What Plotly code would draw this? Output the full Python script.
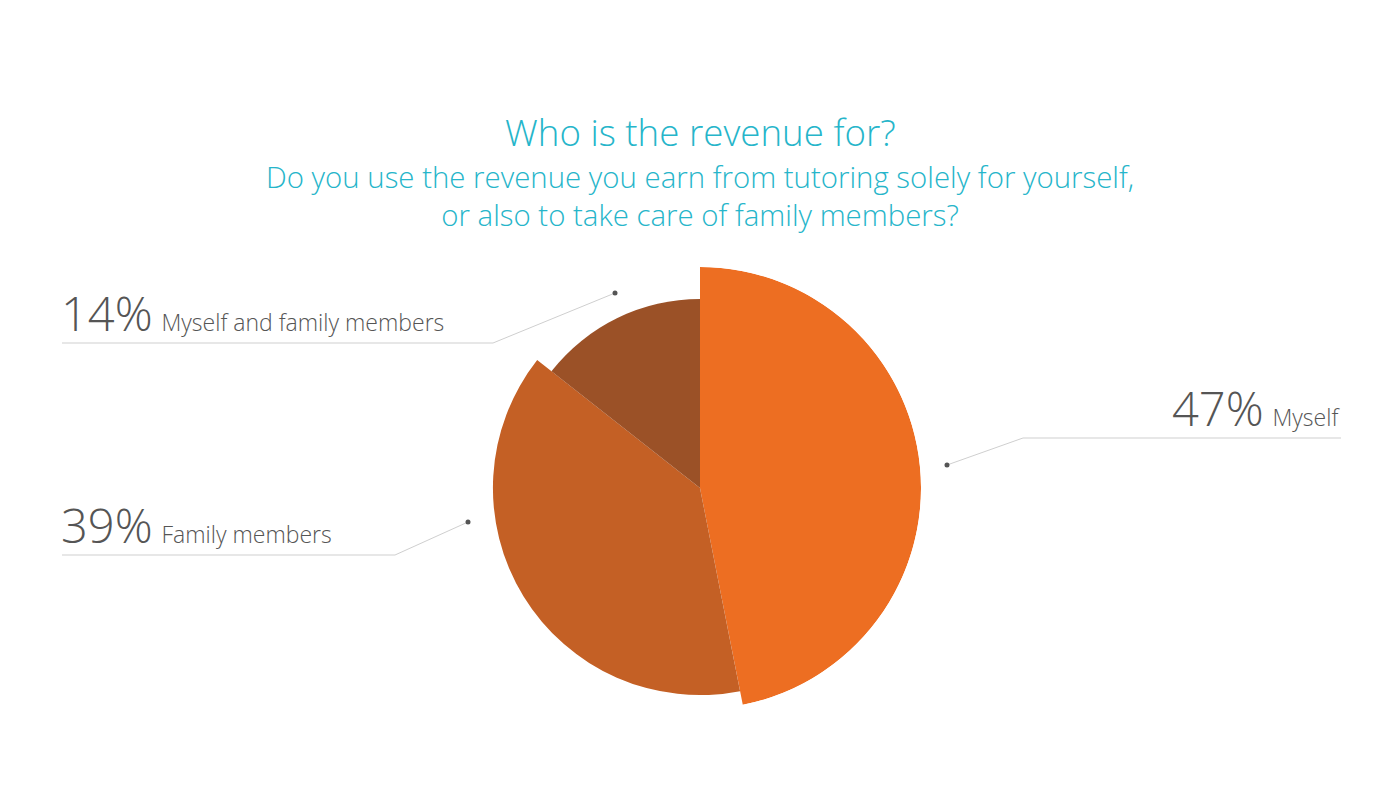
import plotly.graph_objects as go

# ---- data ----
categories = ["Myself", "Family members", "Myself and family members"]
shares = [46.9, 38.7, 14.4]          # slice sizes
percent_labels = ["47%", "39%", "14%"]
radius_values = [100, 93.7, 85.5]    # relative slice radius (variable-radius pie)
colors = ["#ED6E22", "#C46025", "#9B5127"]

title_text = "Who is the revenue for?"
subtitle_lines = ["Do you use the revenue you earn from tutoring solely for yourself,",
                  "or also to take care of family members?"]

# ---- layout constants (pixels) ----
W, H = 1400, 800
cx, cy, R = 700, 488, 221
FONT = "Open Sans, Ubuntu, sans-serif"
TEXT_COLOR = "#555555"
TITLE_COLOR = "#26B5CA"

total = sum(shares)
widths = [p / total * 360 for p in shares]
starts = []
acc = 0
for w in widths:
    starts.append(acc)
    acc += w
centers = [s + w / 2 for s, w in zip(starts, widths)]

fig = go.Figure(go.Barpolar(
    r=radius_values, theta=centers, width=widths,
    marker=dict(color=colors, line=dict(width=0)),
    text=categories, hoverinfo="text", showlegend=False,
))

def px(x):
    return x / W

def py(y):
    return 1 - y / H

# label geometry: (side, line x0, line x1, line y, dot x, dot y)
label_geom = [
    ("right", 1023, 1341, 438, 947, 465),
    ("left", 62, 395, 555, 468, 522),
    ("left", 62, 493, 343, 615, 293),
]

shapes = []
annotations = []
for cat, pl, (side, x0, x1, ly, dx, dy) in zip(categories, percent_labels, label_geom):
    shapes.append(dict(type="line", xref="paper", yref="paper",
                       x0=px(x0), x1=px(x1), y0=py(ly), y1=py(ly),
                       line=dict(color="#CFCFCF", width=1)))
    sx = x0 if side == "right" else x1
    shapes.append(dict(type="line", xref="paper", yref="paper",
                       x0=px(sx), x1=px(dx), y0=py(ly), y1=py(dy),
                       line=dict(color="#CFCFCF", width=1)))
    shapes.append(dict(type="circle", xref="paper", yref="paper",
                       x0=px(dx - 2.5), x1=px(dx + 2.5), y0=py(dy + 2.5), y1=py(dy - 2.5),
                       fillcolor="#555555", line=dict(width=0)))
    annotations.append(dict(
        xref="paper", yref="paper",
        x=px(x1 + 1) if side == "right" else px(x0 - 3),
        y=py(ly + 3.5),
        xanchor="right" if side == "right" else "left",
        yanchor="bottom",
        text=(f"<span style='font-size:47px'>{pl}</span>"
              f"<span style='font-size:34px'> </span>{cat}"),
        showarrow=False,
        font=dict(family=FONT, size=23, color=TEXT_COLOR, weight=300),
    ))

annotations.append(dict(xref="paper", yref="paper", x=0.5, y=py(159),
                        xanchor="center", yanchor="bottom", text=title_text,
                        showarrow=False,
                        font=dict(family=FONT, size=36.7, color=TITLE_COLOR, weight=300)))
annotations.append(dict(xref="paper", yref="paper", x=0.5, y=py(235.5),
                        xanchor="center", yanchor="bottom",
                        text="<br>".join(subtitle_lines),
                        showarrow=False, borderpad=0,
                        font=dict(family=FONT, size=29.4, color=TITLE_COLOR, weight=300)))

fig.update_layout(
    width=W, height=H,
    margin=dict(l=0, r=0, t=0, b=0),
    paper_bgcolor="white", plot_bgcolor="white",
    polar=dict(
        domain=dict(x=[px(cx - R), px(cx + R)], y=[py(cy + R), py(cy - R)]),
        radialaxis=dict(visible=False, range=[0, 100]),
        angularaxis=dict(visible=False, direction="clockwise", rotation=90),
        bgcolor="rgba(0,0,0,0)",
        bargap=0,
    ),
    shapes=shapes,
    annotations=annotations,
)

fig.write_html("out.html")
